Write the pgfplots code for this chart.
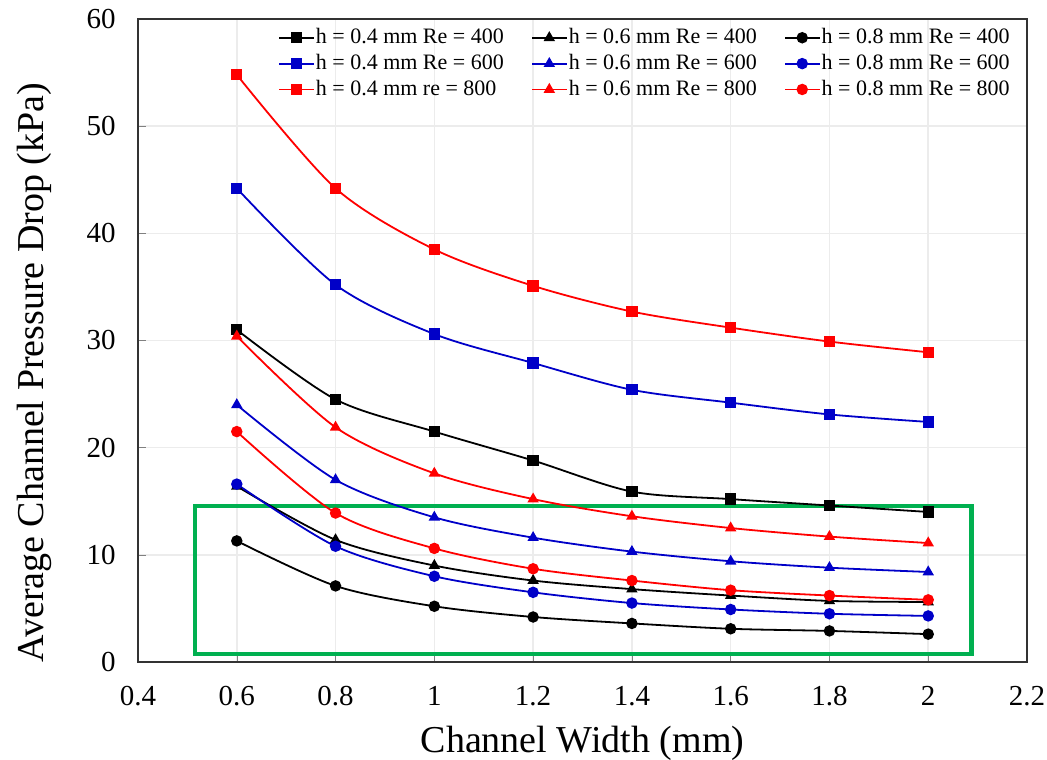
\documentclass[border=0pt]{standalone}
\usepackage{fontspec}
\setmainfont{Liberation Serif}
\usepackage{pgfplots}
\pgfplotsset{compat=1.18}
\definecolor{myblue}{RGB}{0,0,200}
\definecolor{myred}{RGB}{255,0,0}
\definecolor{boxgreen}{RGB}{0,176,80}
\begin{document}
\begin{tikzpicture}
\begin{axis}[
  scale only axis,
  width=444.5pt, height=321.5pt,
  xmin=0.4, xmax=2.2, ymin=0, ymax=60,
  xtick={0.4,0.6,0.8,1,1.2,1.4,1.6,1.8,2,2.2},
  ytick={0,10,20,30,40,50,60},
  /pgf/number format/assume math mode=true,
  tick label style={font=\fontsize{14.5}{16}\selectfont},
  yticklabel style={anchor=east, inner xsep=0pt, xshift=-11pt},
  xticklabel style={anchor=center, yshift=-17pt},
  tick align=inside, major tick length=4pt,
  xtick pos=bottom, ytick pos=left,
  grid=major, grid style={gray!15, line width=0.8pt},
  axis line style={line width=0.9pt, black!80},
  every axis x label/.style={at={(axis description cs:0.5,-0.127)}, anchor=center, font=\fontsize{19}{21}\selectfont},
  every axis y label/.style={at={(axis description cs:-0.116,0.45)}, rotate=90, anchor=center, font=\fontsize{19}{21}\selectfont},
  xlabel={Channel Width (mm)},
  ylabel={Average Channel Pressure Drop (kPa)},
  legend columns=3,
  legend cell align=left,
  legend style={at={(axis description cs:0.1575,0.988)}, anchor=north west, draw=none, fill=none,
    inner sep=0pt,
    font=\fontsize{11}{12}\selectfont, row sep=2.3pt,
    nodes={inner xsep=0.75pt, inner ysep=0.75pt},
    /tikz/every even column/.append style={column sep=13pt}},
  legend image code/.code={\draw[mark repeat=2,mark phase=2] plot coordinates {(0cm,0cm) (0.3cm,0cm) (0.6cm,0cm)};},
  every axis plot/.append style={smooth, line width=0.9pt},
]
\coordinate (bl) at (rel axis cs:0,0);
\coordinate (tr) at (rel axis cs:1,1);
\draw[boxgreen, line width=2.2pt] (axis cs:0.516,0.75) rectangle (axis cs:2.088,14.55);
% Re = 400
\addplot[black, mark=square*, mark size=2.4pt] coordinates {(0.6,31.0)(0.8,24.5)(1.0,21.5)(1.2,18.8)(1.4,15.9)(1.6,15.2)(1.8,14.6)(2.0,14.0)};
\addlegendentry{h = 0.4 mm Re = 400}
\addplot[black, mark=triangle*, mark size=2.4pt] coordinates {(0.6,16.4)(0.8,11.4)(1.0,9.0)(1.2,7.6)(1.4,6.8)(1.6,6.2)(1.8,5.7)(2.0,5.6)};
\addlegendentry{h = 0.6 mm Re = 400}
\addplot[black, mark=*, mark size=2.4pt] coordinates {(0.6,11.3)(0.8,7.1)(1.0,5.2)(1.2,4.2)(1.4,3.6)(1.6,3.1)(1.8,2.9)(2.0,2.6)};
\addlegendentry{h = 0.8 mm Re = 400}
% Re = 600
\addplot[myblue, mark=square*, mark size=2.4pt] coordinates {(0.6,44.2)(0.8,35.2)(1.0,30.6)(1.2,27.9)(1.4,25.4)(1.6,24.2)(1.8,23.1)(2.0,22.4)};
\addlegendentry{h = 0.4 mm Re = 600}
\addplot[myblue, mark=triangle*, mark size=2.4pt] coordinates {(0.6,24.0)(0.8,17.0)(1.0,13.5)(1.2,11.6)(1.4,10.3)(1.6,9.4)(1.8,8.8)(2.0,8.4)};
\addlegendentry{h = 0.6 mm Re = 600}
\addplot[myblue, mark=*, mark size=2.4pt] coordinates {(0.6,16.6)(0.8,10.8)(1.0,8.0)(1.2,6.5)(1.4,5.5)(1.6,4.9)(1.8,4.5)(2.0,4.3)};
\addlegendentry{h = 0.8 mm Re = 600}
% Re = 800
\addplot[myred, mark=square*, mark size=2.4pt] coordinates {(0.6,54.8)(0.8,44.2)(1.0,38.5)(1.2,35.1)(1.4,32.7)(1.6,31.2)(1.8,29.9)(2.0,28.9)};
\addlegendentry{h = 0.4 mm re = 800}
\addplot[myred, mark=triangle*, mark size=2.4pt] coordinates {(0.6,30.4)(0.8,21.9)(1.0,17.6)(1.2,15.2)(1.4,13.6)(1.6,12.5)(1.8,11.7)(2.0,11.1)};
\addlegendentry{h = 0.6 mm Re = 800}
\addplot[myred, mark=*, mark size=2.4pt] coordinates {(0.6,21.5)(0.8,13.9)(1.0,10.6)(1.2,8.7)(1.4,7.6)(1.6,6.7)(1.8,6.2)(2.0,5.8)};
\addlegendentry{h = 0.8 mm Re = 800}
\end{axis}
\pgfresetboundingbox
\path ([shift={(-69pt,-48.5pt)}]bl) rectangle ([shift={(10pt,9.5pt)}]tr);
\end{tikzpicture}
\end{document}
